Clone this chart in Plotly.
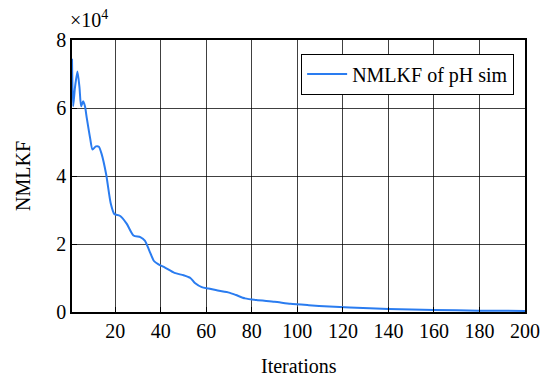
import plotly.graph_objects as go

iterations = [1, 1.5, 2.3, 3.4, 4.3, 5, 5.9, 6.7, 7.5, 9, 10, 11.5, 12.8, 14, 16, 18, 19.6,
              22, 25, 28, 31, 33, 35, 37, 39, 42, 46, 50, 53, 55, 58, 61, 65, 70, 73, 77,
              82, 90, 97, 105, 114, 123, 140, 160, 180, 200]
nmlkf = [74500, 60500, 66000, 70700, 66000, 60500, 62000, 60500, 57000, 51000, 47800, 48700,
         48600, 46500, 40500, 32000, 28800, 28300, 26000, 22500, 22000, 21000, 18000, 15000,
         14000, 13000, 11500, 10800, 10000, 8500, 7300, 6900, 6300, 5700, 5000, 4000,
         3500, 3000, 2400, 2000, 1600, 1300, 900, 600, 400, 300]

y_ticks = [0, 20000, 40000, 60000, 80000]
y_ticktext = ["0", "2", "4", "6", "8"]
x_ticks = [20, 40, 60, 80, 100, 120, 140, 160, 180, 200]

SERIF = "Times New Roman, Liberation Serif, DejaVu Serif, serif"
font = dict(family=SERIF, size=20, color="black")

fig = go.Figure()
fig.add_trace(go.Scatter(x=iterations, y=nmlkf, mode="lines", name="NMLKF of pH sim",
                         line=dict(color="#2a7cf0", width=2, shape="spline", smoothing=0.6)))

axis_common = dict(showline=True, linecolor="black", linewidth=1.5, mirror=True,
                   ticks="inside", ticklen=5, tickcolor="black", showgrid=True,
                   gridcolor="rgba(0,0,0,0.75)", gridwidth=1, zeroline=False,
                   tickfont=font, automargin=False)
fig.update_xaxes(range=[1, 200], tickvals=x_ticks, **axis_common)
fig.update_yaxes(range=[0, 80000], tickvals=y_ticks, ticktext=y_ticktext,
                 title=dict(text="NMLKF", font=font, standoff=20), **axis_common)

fig.add_annotation(xref="paper", yref="paper", x=0.5, y=0, xanchor="center", yanchor="top",
                   yshift=-41, showarrow=False, text="Iterations", font=font)
fig.add_annotation(xref="paper", yref="paper", x=0, y=1, xanchor="left", yanchor="bottom",
                   yshift=7, xshift=-4, showarrow=False,
                   text="×10<sup>4</sup>", font=dict(family=SERIF, size=20, color="black"))

# page body has an 8px margin, so the figure is drawn 8px smaller with margins offset
fig.update_layout(width=542, height=368, margin=dict(l=64, r=25, t=32, b=64),
                  plot_bgcolor="white", paper_bgcolor="white", font=font,
                  showlegend=True,
                  legend=dict(x=0.976, y=0.95, xanchor="right", yanchor="top",
                              itemwidth=40,
                              bgcolor="white", bordercolor="black", borderwidth=1,
                              font=dict(family=SERIF, size=20, color="black")))

fig.write_html("out.html")
